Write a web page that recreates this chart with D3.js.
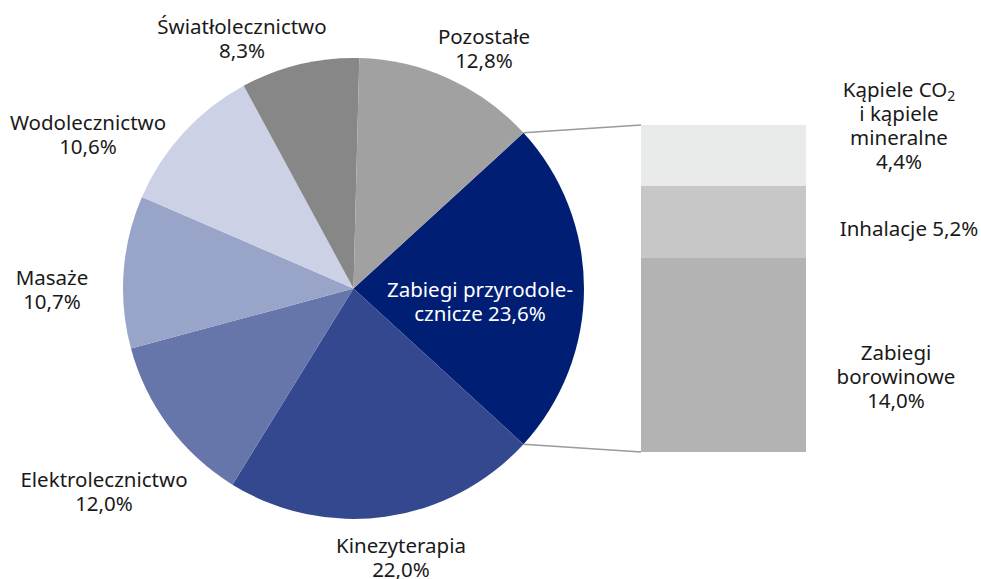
<!DOCTYPE html>
<html lang="pl">
<head>
<meta charset="utf-8">
<title>Zabiegi</title>
<script src="https://d3js.org/d3.v7.min.js"></script>
<style>
  body { margin: 0; background: #fff; }
  text { font-family: "Noto Sans", sans-serif; font-size: 20.5px; fill: #1a1a1a; }
</style>
</head>
<body>
<script>
// pie slices, clockwise starting with the exploded one
var categories = ["Zabiegi przyrodolecznicze", "Kinezyterapia", "Elektrolecznictwo", "Masaże",
                  "Wodolecznictwo", "Światłolecznictwo", "Pozostałe"];
var values = [23.6, 22.0, 12.0, 10.7, 10.6, 8.3, 12.8];
var colors = ["#001e73", "#34488f", "#6676ab", "#99a4c9", "#ccd1e5", "#878787", "#a0a1a0"];

// breakdown of the first slice, top to bottom
var subCategories = ["Kąpiele CO2 i kąpiele mineralne", "Inhalacje", "Zabiegi borowinowe"];
var subValues = [4.4, 5.2, 14.0];
var subColors = ["#e9eaea", "#c6c7c6", "#b2b3b2"];

var w = 981, h = 579;
var cx = 353.5, cy = 288.5, r = 230.5;

var svg = d3.select("body").append("svg")
  .attr("width", w)
  .attr("height", h);

var fmt = function (v) { return d3.format(".1f")(v).replace(".", ",") + "%"; };

var startA = Math.PI / 2 - (values[0] / 100) * Math.PI;
var pie = d3.pie().sort(null).startAngle(startA).endAngle(startA + 2 * Math.PI);
var arcs = pie(values);
var arc = d3.arc().innerRadius(0).outerRadius(r);

var g = svg.append("g").attr("transform", "translate(" + cx + "," + cy + ")");
g.selectAll("path")
  .data(arcs)
  .enter()
  .append("path")
  .attr("d", arc)
  .attr("fill", function (d, i) { return colors[i]; });

// stacked bar on the right
var barX = 641, barW = 165, barTop = 125, barBottom = 452;
var yScale = d3.scaleLinear()
  .domain([0, d3.sum(subValues)])
  .range([barTop, barBottom]);
var cum = 0;
var stacks = subValues.map(function (v) { var s = { y0: cum, y1: cum + v }; cum += v; return s; });

svg.selectAll("rect.sub")
  .data(stacks)
  .enter()
  .append("rect")
  .attr("class", "sub")
  .attr("x", barX)
  .attr("width", barW)
  .attr("y", function (d) { return yScale(d.y0); })
  .attr("height", function (d) { return yScale(d.y1) - yScale(d.y0); })
  .attr("fill", function (d, i) { return subColors[i]; });

// connector lines from slice edges to bar corners
var a0 = arcs[0].startAngle, a1 = arcs[0].endAngle;
var edge = function (a) { return [cx + r * Math.sin(a), cy - r * Math.cos(a)]; };
[[edge(a0), [barX, barTop]], [edge(a1), [barX, barBottom]]].forEach(function (p) {
  svg.append("line")
    .attr("x1", p[0][0]).attr("y1", p[0][1])
    .attr("x2", p[1][0]).attr("y2", p[1][1])
    .attr("stroke", "#9a9a9a")
    .attr("stroke-width", 1.5);
});

// labels
function lines(x, y, arr, fill) {
  var t = svg.append("text")
    .attr("x", x).attr("y", y)
    .attr("text-anchor", "middle");
  if (fill) t.style("fill", fill);
  arr.forEach(function (s, i) {
    t.append("tspan").attr("x", x).attr("dy", i === 0 ? 0 : 24).text(s);
  });
  return t;
}

var pieLabels = [
  { x: 480, y: 297, l: ["Zabiegi przyrodole-", "cznicze " + fmt(values[0])], fill: "#ffffff" },
  { x: 401, y: 553, l: ["Kinezyterapia", fmt(values[1])] },
  { x: 104, y: 487, l: ["Elektrolecznictwo", fmt(values[2])] },
  { x: 52, y: 285, l: ["Masaże", fmt(values[3])] },
  { x: 88, y: 130, l: ["Wodolecznictwo", fmt(values[4])] },
  { x: 242, y: 34, l: ["Światłolecznictwo", fmt(values[5])] },
  { x: 484, y: 44, l: ["Pozostałe", fmt(values[6])] }
];
pieLabels.forEach(function (d) { lines(d.x, d.y, d.l, d.fill); });

// bar labels
var k = lines(899, 97, ["Kąpiele CO", "i kąpiele", "mineralne", fmt(subValues[0])]);
k.append("tspan").attr("x", null).attr("dy", null)
  .attr("baseline-shift", "-25%")
  .style("font-size", "14px")
  .text("2");
// move subscript right after "CO" by placing it in the first line
var firstLine = k.select("tspan").node();
firstLine.appendChild(k.node().lastChild);
lines(909, 236, ["Inhalacje " + fmt(subValues[1])]);
lines(896, 360, ["Zabiegi", "borowinowe", fmt(subValues[2])]);
</script>
</body>
</html>
